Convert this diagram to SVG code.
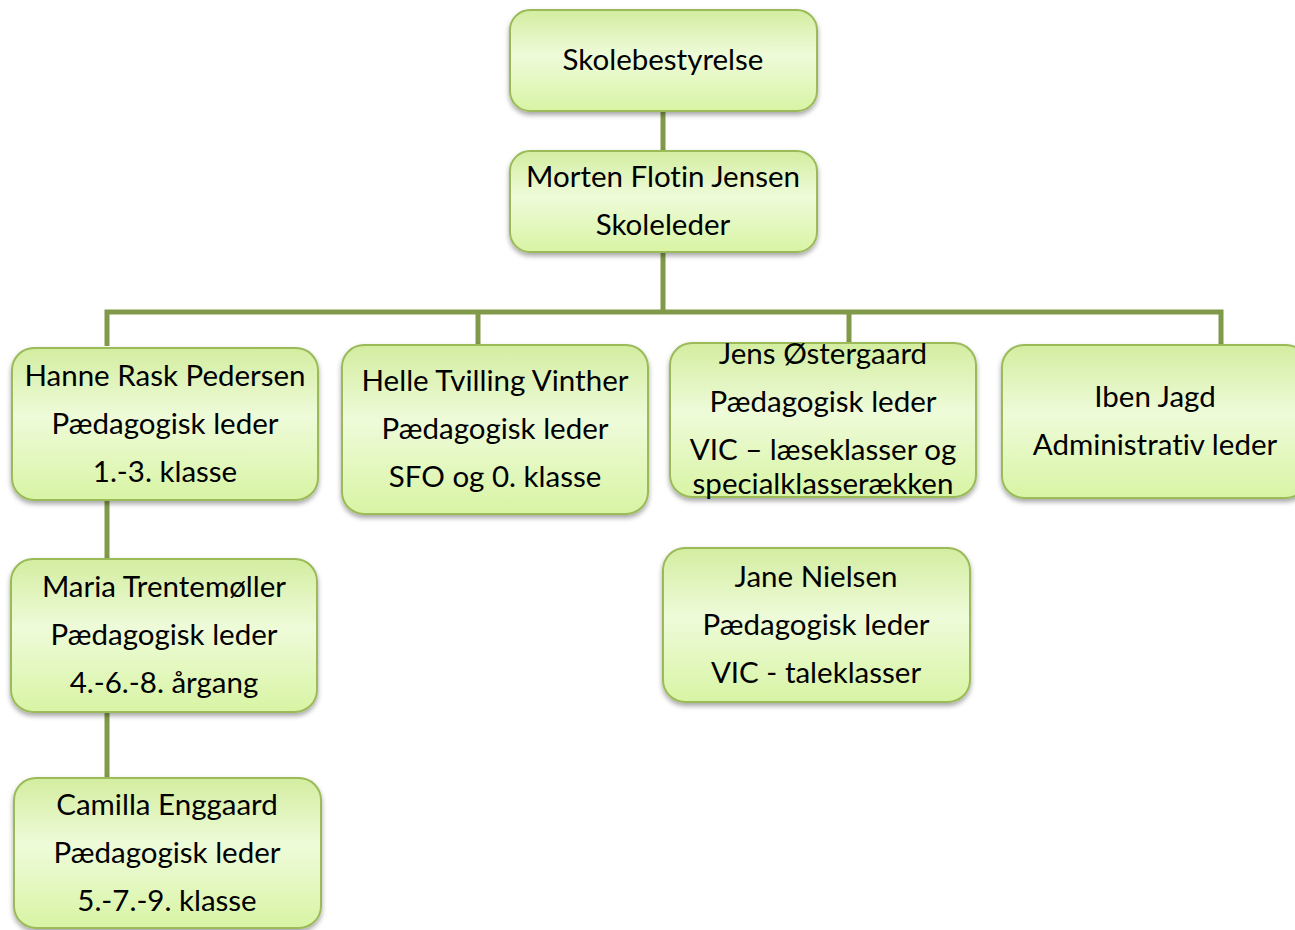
<svg xmlns="http://www.w3.org/2000/svg" width="1295" height="930" viewBox="0 0 1295 930">
<defs>
<linearGradient id="g" x1="0" y1="0" x2="0" y2="1">
<stop offset="0" stop-color="#d3eda0"/>
<stop offset="0.45" stop-color="#eefbd9"/>
<stop offset="1" stop-color="#d8f4a4"/>
</linearGradient>
<filter id="sh" x="-10%" y="-10%" width="120%" height="130%">
<feDropShadow dx="0" dy="3" stdDeviation="2.5" flood-color="#000" flood-opacity="0.35"/>
</filter>
</defs>
<style>
.box{fill:url(#g);stroke:#9bbb59;stroke-width:2;filter:url(#sh)}
.t{font-family:Lato,"Open Sans",sans-serif;font-size:29.5px;fill:#000;text-anchor:middle;font-variant-ligatures:none;font-feature-settings:"liga" 0,"clig" 0,"dlig" 0,"calt" 0}
.c{stroke:#809a49;stroke-width:5;fill:none}
</style>
<rect width="1295" height="930" fill="#fff"/>
<g id="connectors">
<line class="c" x1="663" y1="110" x2="663" y2="152"/>
<line class="c" x1="663" y1="251" x2="663" y2="312"/>
<polyline class="c" points="107,346 107,312 1221,312 1221,346"/>
<line class="c" x1="478" y1="312" x2="478" y2="346"/>
<line class="c" x1="849" y1="312" x2="849" y2="344"/>
<line class="c" x1="107" y1="499" x2="107" y2="560"/>
<line class="c" x1="107" y1="711" x2="107" y2="779"/>
</g>
<g id="n1"><rect class="box" x="510" y="10" width="307" height="101" rx="20"/>
<text class="t" x="663" y="70">Skolebestyrelse</text></g>
<g id="n2"><rect class="box" x="510" y="151" width="307" height="101" rx="20"/>
<text class="t" x="663" y="187">Morten Flotin Jensen</text>
<text class="t" x="663" y="235">Skoleleder</text></g>
<g id="n3"><rect class="box" x="12" y="348" width="306" height="152" rx="22"/>
<text class="t" x="165" y="386">Hanne Rask Pedersen</text>
<text class="t" x="165" y="434">Pædagogisk leder</text>
<text class="t" x="165" y="482">1.-3. klasse</text></g>
<g id="n4"><rect class="box" x="342" y="345" width="306" height="169" rx="22"/>
<text class="t" x="495" y="391">Helle Tvilling Vinther</text>
<text class="t" x="495" y="439">Pædagogisk leder</text>
<text class="t" x="495" y="487">SFO og 0. klasse</text></g>
<g id="n5"><rect class="box" x="670" y="343" width="306" height="154" rx="22"/>
<text class="t" x="823" y="364">Jens Østergaard</text>
<text class="t" x="823" y="412">Pædagogisk leder</text>
<text class="t" x="823" y="460">VIC – læseklasser og</text>
<text class="t" x="823" y="494">specialklasserækken</text></g>
<g id="n6"><rect class="box" x="1002" y="345" width="306" height="153" rx="22"/>
<text class="t" x="1155" y="407">Iben Jagd</text>
<text class="t" x="1155" y="455">Administrativ leder</text></g>
<g id="n7"><rect class="box" x="11" y="559" width="306" height="153" rx="22"/>
<text class="t" x="164" y="597">Maria Trentemøller</text>
<text class="t" x="164" y="645">Pædagogisk leder</text>
<text class="t" x="164" y="693">4.-6.-8. årgang</text></g>
<g id="n8"><rect class="box" x="663" y="548" width="307" height="154" rx="22"/>
<text class="t" x="816" y="587">Jane Nielsen</text>
<text class="t" x="816" y="635">Pædagogisk leder</text>
<text class="t" x="816" y="683">VIC - taleklasser</text></g>
<g id="n9"><rect class="box" x="14" y="778" width="307" height="150" rx="22"/>
<text class="t" x="167" y="815">Camilla Enggaard</text>
<text class="t" x="167" y="863">Pædagogisk leder</text>
<text class="t" x="167" y="911">5.-7.-9. klasse</text></g>
</svg>
